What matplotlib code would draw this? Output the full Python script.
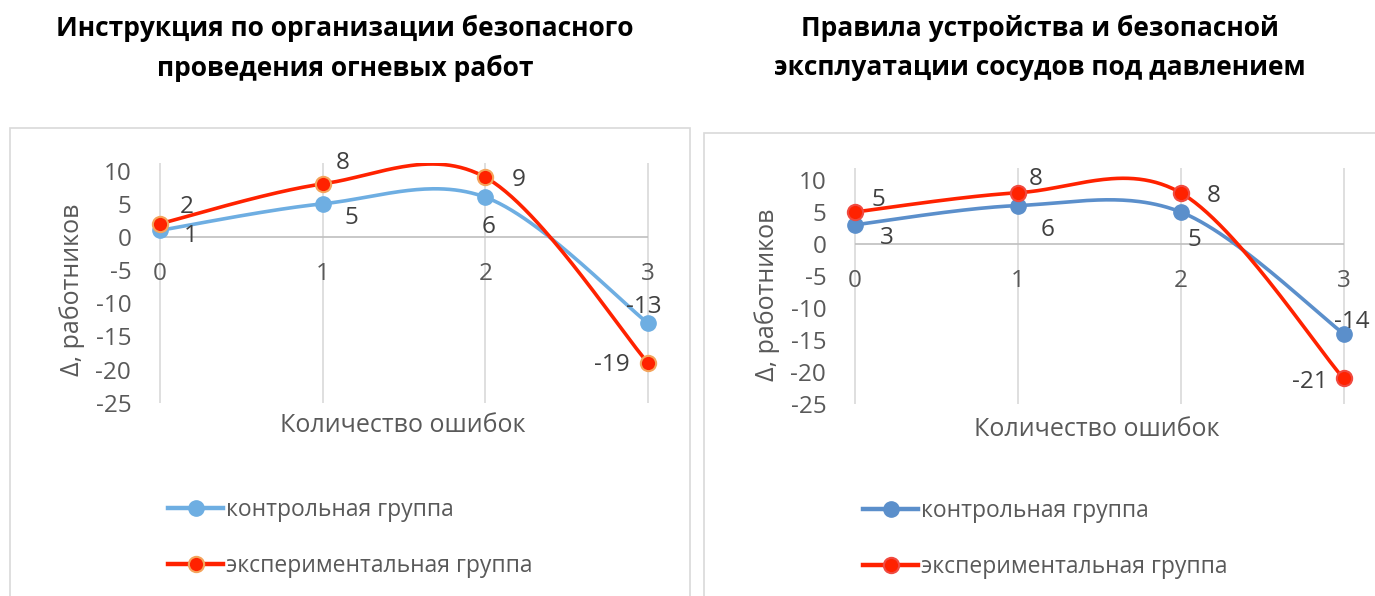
import numpy as np
import matplotlib
matplotlib.use("Agg")
import matplotlib.pyplot as plt
from matplotlib.patches import Rectangle

plt.rcParams['font.family'] = ['Open Sans', 'DejaVu Sans']

# ---- data ----
x_errors = [0, 1, 2, 3]
x_tick_labels = ["0", "1", "2", "3"]
y_ticks = [-25, -20, -15, -10, -5, 0, 5, 10]

titles = ["Инструкция по организации безопасного\nпроведения огневых работ",
          "Правила устройства и безопасной\nэксплуатации сосудов под давлением"]
series_names = ["контрольная группа", "экспериментальная группа"]
xlabel = "Количество ошибок"
ylabel = "Δ, работников"

left_control = [1, 5, 6, -13]
left_experimental = [2, 8, 9, -19]
right_control = [3, 6, 5, -14]
right_experimental = [5, 8, 8, -21]

# ---- styling / positioning ----
PX = 1 / 1.389  # pixels -> points at 100 dpi
left_ctrl_off = [(31, 6), (29, 14), (3, 30), (-4, -16)]
left_exp_off = [(27, -17), (20, -21), (33, 3), (-36, 2)]
right_ctrl_off = [(32, 13), (30, 24), (14, 28), (8, -12)]
right_exp_off = [(23, -12), (18, -14), (33, 3), (-34, 4)]

TXT = "#404040"
TICK = "#595959"
GRID = "#D9D9D9"
AXLINE = "#BFBFBF"
RED = "#FF2200"
FS = 17.5


def excel_spline(xs, ys, n=60):
    P = np.column_stack([xs, ys]).astype(float)
    m = len(P)
    out = []
    for i in range(m - 1):
        p0 = P[max(i - 1, 0)]
        p1 = P[i]
        p2 = P[i + 1]
        p3 = P[min(i + 2, m - 1)]
        c1 = p1 + (p2 - p0) / 6.0
        c2 = p2 - (p3 - p1) / 6.0
        t = np.linspace(0, 1, n)[:, None]
        b = ((1 - t) ** 3) * p1 + 3 * ((1 - t) ** 2) * t * c1 + 3 * (1 - t) * t ** 2 * c2 + t ** 3 * p2
        out.append(b if i == 0 else b[1:])
    b = np.vstack(out)
    return b[:, 0], b[:, 1]


fig = plt.figure(figsize=(13.75, 5.96), dpi=100)
W, H = 1375.0, 596.0


def fx(px):
    return px / W


def fy(py):
    return 1 - py / H


# boxes
fig.patches.append(Rectangle((fx(10), fy(600)), fx(680), fy(128) - fy(600),
                             transform=fig.transFigure, fill=False, edgecolor="#D9D9D9", lw=1.2))
fig.patches.append(Rectangle((fx(704), fy(600)), fx(680), fy(133) - fy(600),
                             transform=fig.transFigure, fill=False, edgecolor="#D9D9D9", lw=1.2))

panels = [
    dict(x0=160, x3=648, y_top=162.7, y_bot=402.75, ymax=11.2, ctrl=left_control, exp=left_experimental,
         ctrl_col="#6EAEE2", exp_edge="#F4A45C", c_off=left_ctrl_off, e_off=left_exp_off,
         title_x=345, ylab_x=72, ylab_y=290, xlab=(403, 425), leg=(168, 498)),
    dict(x0=855, x3=1343.5, y_top=167.8, y_bot=404, ymax=11.9, ctrl=right_control, exp=right_experimental,
         ctrl_col="#5B8FCB", exp_edge="#F04A40", c_off=right_ctrl_off, e_off=right_exp_off,
         title_x=1040, ylab_x=767, ylab_y=295, xlab=(1097, 430), leg=(863, 499)),
]

for i, p in enumerate(panels):
    unit = (p["x3"] - p["x0"]) / 3.0
    lpx = p["x0"] - 0.1 * unit
    rpx = p["x3"] + 0.1 * unit
    ax = fig.add_axes([fx(lpx), fy(p["y_bot"]), (rpx - lpx) / W, (p["y_bot"] - p["y_top"]) / H])
    ax.set_xlim(-0.1, 3.1)
    ax.set_ylim(-25, p["ymax"])
    for s in ["top", "right", "left"]:
        ax.spines[s].set_visible(False)
    ax.spines["bottom"].set_position(("data", 0))
    ax.spines["bottom"].set_visible(False)
    ax.set_xticks(x_errors)
    ax.set_xticklabels(x_tick_labels)
    ax.set_yticks(y_ticks)
    ax.set_yticklabels([str(v) for v in y_ticks])
    ax.tick_params(axis="both", length=0, labelsize=FS, labelcolor=TICK)
    ax.tick_params(axis="x", pad=18)
    ax.tick_params(axis="y", pad=9)
    ax.grid(axis="x", color=GRID, lw=1.2)
    ax.set_axisbelow(True)
    ax.hlines(0, x_errors[0], x_errors[-1], color=AXLINE, lw=1.2, zorder=1)

    sx, sy = excel_spline(x_errors, p["ctrl"])
    ax.plot(sx, sy, color=p["ctrl_col"], lw=2.6, solid_capstyle="round", zorder=3)
    ax.plot(x_errors, p["ctrl"], ls="none", marker="o", ms=11, color=p["ctrl_col"],
            mec=p["ctrl_col"], zorder=4, clip_on=False)
    sx, sy = excel_spline(x_errors, p["exp"])
    ax.plot(sx, sy, color=RED, lw=2.6, solid_capstyle="round", zorder=5)
    ax.plot(x_errors, p["exp"], ls="none", marker="o", ms=11, color=RED,
            mec=p["exp_edge"], mew=1.5, zorder=6, clip_on=False)

    for xv, yv, (dx, dy) in zip(x_errors, p["ctrl"], p["c_off"]):
        ax.annotate(str(yv), (xv, yv), xytext=(dx * PX, -dy * PX), textcoords="offset points",
                    ha="center", va="center", fontsize=FS, color=TXT, zorder=7, annotation_clip=False)
    for xv, yv, (dx, dy) in zip(x_errors, p["exp"], p["e_off"]):
        ax.annotate(str(yv), (xv, yv), xytext=(dx * PX, -dy * PX), textcoords="offset points",
                    ha="center", va="center", fontsize=FS, color=TXT, zorder=7, annotation_clip=False)

    fig.text(fx(p["title_x"]), fy(48), titles[i], ha="center", va="center", fontsize=19,
             fontweight="bold", color="black", linespacing=1.6)
    fig.text(fx(p["ylab_x"]), fy(p["ylab_y"]), ylabel, rotation=90, ha="center", va="center",
             fontsize=18, color=TICK)
    fig.text(fx(p["xlab"][0]), fy(p["xlab"][1]), xlabel, ha="center", va="center",
             fontsize=18, color=TICK)

    # legend
    h1, = ax.plot([], [], color=p["ctrl_col"], lw=3.2, marker="o", ms=11, mec=p["ctrl_col"])
    h2, = ax.plot([], [], color=RED, lw=3.2, marker="o", ms=11, mec=p["exp_edge"], mew=1.5)
    leg = ax.legend([h1, h2], series_names, loc="upper left",
                    bbox_to_anchor=(fx(p["leg"][0]), fy(p["leg"][1])), bbox_transform=fig.transFigure,
                    frameon=False, fontsize=16.5, handlelength=2.4, handletextpad=0.15,
                    labelspacing=1.4, borderpad=0, borderaxespad=0)
    for t in leg.get_texts():
        t.set_color(TICK)

fig.savefig("out.png", dpi=100)
